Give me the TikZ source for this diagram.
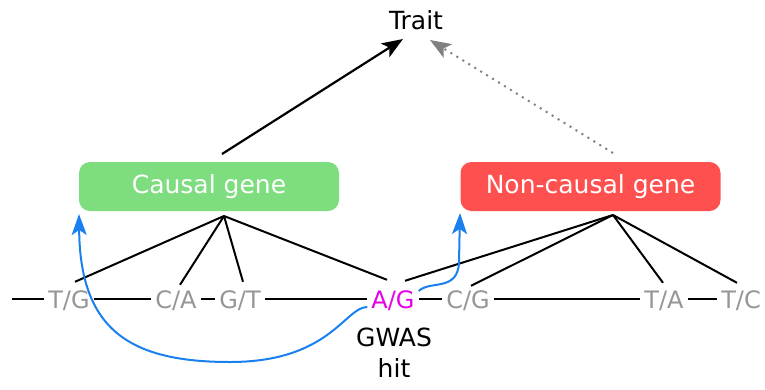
\documentclass[tikz,border=0pt]{standalone}
\usepackage{fontspec}
\setmainfont{DejaVu Sans}
\usetikzlibrary{arrows.meta,calc}
\definecolor{gfill}{RGB}{126,221,126}
\definecolor{rfill}{RGB}{255,80,80}
\definecolor{barrow}{RGB}{26,128,240}
\definecolor{snpgray}{RGB}{150,150,150}
\definecolor{mag}{RGB}{230,0,230}
\definecolor{dotgray}{RGB}{128,128,128}
\begin{document}
\begin{tikzpicture}[x=1pt,y=-1pt,
  every node/.style={font=\fontsize{25}{31}\selectfont},
  gene/.style={rounded corners=11pt, minimum width=260pt, minimum height=49pt, inner sep=0pt, text=white},
  snp/.style={font=\fontsize{24}{28}\selectfont, text=snpgray, anchor=base, inner xsep=4pt, inner ysep=0pt, text height=24pt, text depth=0pt},
  link/.style={line width=2pt, black},
  causal/.style={line width=2.2pt, black, -{Stealth[length=21pt, width=16pt, inset=5pt]}},
  noncausal/.style={line width=2pt, dotgray, dash pattern=on 2pt off 5pt, -{Stealth[length=21pt, width=16pt, inset=5pt]}},
  ldarrow/.style={line width=2pt, barrow, -{Stealth[length=21pt, width=15pt, inset=5pt]}}
]
\useasboundingbox (0,0) rectangle (765,389);

% Trait and genes
\node (trait) at (416,20) {Trait};
\node[gene, fill=gfill] (cg) at (209,186.5) {Causal gene};
\node[gene, fill=rfill] (ng) at (590.5,186.5) {Non-causal gene};

\coordinate (cgtop) at (222,154);
\coordinate (ngtop) at (613,153);
\coordinate (traitL) at (403,39);
\coordinate (traitR) at (430,40);
\draw[causal] (cgtop) -- (traitL);
\draw[noncausal] (ngtop) -- (traitR);

% SNP row
\coordinate (ly) at (0,299);
\coordinate (l0) at (12,299);
\node[snp] (tg) at (69,308) {T/G};
\node[snp] (ca) at (176,308) {C/A};
\node[snp] (gt) at (240,308) {G/T};
\node[snp, text=mag] (ag) at (393,308) {A/G};
\node[snp] (cgs) at (468,308) {C/G};
\node[snp] (ta) at (664,308) {T/A};
\node[snp] (tc) at (741,308) {T/C};

\draw[link] (l0) -- (tg.west |- ly);
\draw[link] (tg.east |- ly) -- (ca.west |- ly);
\draw[link] (ca.east |- ly) -- (gt.west |- ly);
\draw[link] (gt.east |- ly) -- (ag.west |- ly);
\draw[link] (ag.east |- ly) -- (cgs.west |- ly);
\draw[link] (cgs.east |- ly) -- (ta.west |- ly);
\draw[link] (ta.east |- ly) -- (tc.west |- ly);

\node (gwas) at (394,377) [anchor=base, align=center] {GWAS\\hit};

% gene-to-SNP links
\coordinate (ga) at (224,216);
\coordinate (ra) at (613,215);
\draw[link] (ga) -- ($(tg.north)+(6,-2)$);
\draw[link] (ga) -- ($(ca.north)+(4,1)$);
\draw[link] (ga) -- ($(gt.north)+(3,-2)$);
\draw[link] (ga) -- ($(ag.north)+(-6,-4)$);
\draw[link] (ra) -- ($(ag.north)+(12,-3)$);
\draw[link] (ra) -- ($(cgs.north)+(3,2)$);
\draw[link] (ra) -- ($(ta.north)+(-1,-1)$);
\draw[link] (ra) -- ($(tc.north)+(-4,-1)$);

% LD arrows
\coordinate (tipL) at (79,214);
\coordinate (tipR) at (460,213);
\draw[ldarrow] ($(ag.west |- ly)+(0,8)$) .. controls (345,307) and (330,362) .. (230,362)
   .. controls (130,362) and (80,330) .. (tipL);
\draw[ldarrow] ($(ag.east |- ly)+(0,-8)$) .. controls (430,280) and (458,292) .. (459,262) -- (tipR);
\end{tikzpicture}
\end{document}
